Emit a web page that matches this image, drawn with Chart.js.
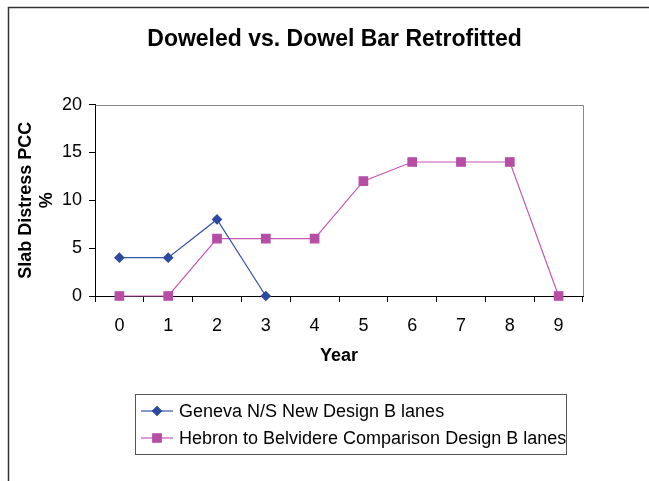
<!DOCTYPE html>
<html>
<head>
<meta charset="utf-8">
<title>Doweled vs. Dowel Bar Retrofitted</title>
<script src="https://cdn.jsdelivr.net/npm/chart.js@4/dist/chart.umd.min.js"></script>
<style>
  body { margin: 0; background: #fff; }
  canvas { display: block; }
</style>
</head>
<body>
<canvas id="distress" width="649" height="481"></canvas>
<script>
const years = ["0", "1", "2", "3", "4", "5", "6", "7", "8", "9"];
const genevaValues = [4, 4, 8, 0, null, null, null, null, null, null];
const hebronValues = [0, 0, 6, 6, 6, 12, 14, 14, 14, 0];
const yTicks = [0, 5, 10, 15, 20];
const seriesNames = [
  "Geneva N/S New Design B lanes",
  "Hebron to Belvidere Comparison Design B lanes"
];

const FONT = "'Liberation Sans', Arial, sans-serif";

// outer frame of the chart sheet (only top and left edges are in view)
const sheetFrame = {
  id: "sheetFrame",
  beforeDraw(chart) {
    const ctx = chart.ctx;
    ctx.save();
    ctx.strokeStyle = "#333";
    ctx.lineWidth = 1.5;
    ctx.beginPath();
    ctx.moveTo(8.5, chart.height);
    ctx.lineTo(8.5, 7.5);
    ctx.lineTo(chart.width, 7.5);
    ctx.stroke();
    ctx.restore();
  }
};

// grey top/right edges of the plot area
const plotEdge = {
  id: "plotEdge",
  beforeDatasetsDraw(chart) {
    const a = chart.chartArea;
    const ctx = chart.ctx;
    ctx.save();
    ctx.strokeStyle = "#888";
    ctx.lineWidth = 1;
    ctx.beginPath();
    ctx.moveTo(Math.round(a.left) + 0.5, Math.round(a.top) + 0.5);
    ctx.lineTo(Math.round(a.right) + 0.5, Math.round(a.top) + 0.5);
    ctx.lineTo(Math.round(a.right) + 0.5, Math.round(a.bottom));
    ctx.stroke();
    ctx.restore();
  }
};

// boxed legend below the axis, one series per row
const boxLegend = {
  id: "boxLegend",
  afterDraw(chart) {
    const ctx = chart.ctx;
    const box = { x: 135.5, y: 394.5, w: 431, h: 60 };
    ctx.save();
    ctx.strokeStyle = "#555";
    ctx.lineWidth = 1;
    ctx.strokeRect(box.x, box.y, box.w, box.h);
    ctx.font = "18px " + FONT;
    ctx.textBaseline = "middle";
    ctx.fillStyle = "#000";
    chart.data.datasets.forEach((ds, i) => {
      const cy = 411 + i * 27;
      ctx.strokeStyle = ds.borderColor;
      ctx.lineWidth = 1.2;
      ctx.beginPath();
      ctx.moveTo(141, cy);
      ctx.lineTo(173, cy);
      ctx.stroke();
      ctx.fillStyle = ds.pointBackgroundColor;
      ctx.strokeStyle = ds.pointBackgroundColor;
      Chart.helpers.drawPoint(ctx, {
        pointStyle: ds.pointStyle,
        radius: ds.pointRadius,
        borderWidth: 1,
        rotation: 0
      }, 157, cy);
      ctx.fillStyle = "#000";
      ctx.fillText(ds.label, 179, cy + 1);
    });
    ctx.restore();
  }
};

new Chart(document.getElementById("distress"), {
  type: "line",
  data: {
    labels: years,
    datasets: [
      {
        label: seriesNames[0],
        data: genevaValues,
        borderColor: "#3453A8",
        borderWidth: 1.2,
        pointStyle: "rectRot",
        pointRadius: 4.5,
        pointBackgroundColor: "#2C4B9F",
        pointBorderColor: "#2C4B9F",
        spanGaps: false,
        tension: 0,
        clip: false
      },
      {
        label: seriesNames[1],
        data: hebronValues,
        borderColor: "#C657B4",
        borderWidth: 1.2,
        pointStyle: "rect",
        pointRadius: 6,
        pointBackgroundColor: "#B84DA6",
        pointBorderColor: "#B84DA6",
        tension: 0,
        clip: false
      }
    ]
  },
  options: {
    responsive: false,
    animation: false,
    layout: { padding: { left: 20, right: 0, top: 0, bottom: 0 } },
    plugins: {
      legend: { display: false },
      tooltip: { enabled: false },
      title: {
        display: true,
        text: "Doweled vs. Dowel Bar Retrofitted",
        color: "#000",
        font: { family: FONT, size: 23, weight: "bold", lineHeight: 1.2 },
        padding: { top: 26, bottom: 51 }
      }
    },
    scales: {
      x: {
        type: "category",
        offset: true,
        afterFit(scale) { scale.height = 185; },
        grid: {
          offset: true,
          drawOnChartArea: false,
          drawTicks: true,
          tickLength: 6,
          color: "#000"
        },
        border: { display: true, color: "#000", width: 1 },
        ticks: {
          color: "#000",
          padding: 13,
          maxRotation: 0,
          font: { family: FONT, size: 18 }
        },
        title: {
          display: true,
          text: "Year",
          color: "#000",
          font: { family: FONT, size: 18, weight: "bold", lineHeight: 1.2 },
          padding: { top: 0, bottom: 114 }
        }
      },
      y: {
        min: yTicks[0],
        max: yTicks[yTicks.length - 1],
        afterFit(scale) { scale.width = 75; },
        afterBuildTicks(scale) { scale.ticks = yTicks.map(v => ({ value: v })); },
        grid: {
          drawOnChartArea: false,
          drawTicks: true,
          tickLength: 6,
          color: "#000"
        },
        border: { display: true, color: "#000", width: 1 },
        ticks: {
          color: "#000",
          padding: 7,
          font: { family: FONT, size: 18 }
        },
        title: {
          display: true,
          text: ["Slab Distress PCC", "%"],
          color: "#000",
          font: { family: FONT, size: 18, weight: "bold", lineHeight: 1.15 },
          padding: { top: -4, bottom: 0 }
        }
      },
      // empty right-hand strip that keeps the plot clear of the sheet edge
      yRight: {
        position: "right",
        min: yTicks[0],
        max: yTicks[yTicks.length - 1],
        afterFit(scale) { scale.width = 66; },
        grid: { display: false },
        border: { display: false },
        ticks: { display: false }
      }
    }
  },
  plugins: [sheetFrame, plotEdge, boxLegend]
});
</script>
</body>
</html>
